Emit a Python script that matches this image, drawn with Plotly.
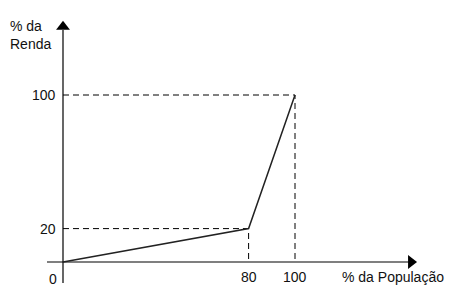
import plotly.graph_objects as go

# Data
pop = [0, 80, 100]          # % da População
renda = [0, 20, 100]        # % da Renda
x_ticks = [80, 100]
y_ticks = [20, 100]
x_title = "% da População"
y_title = "% da Renda"

W, H = 453, 294
# linear scale: origin at px (63,262); 100 -> x px 295, y px 95
sx = (295 - 63) / 100.0
sy = (262 - 95) / 100.0
x_range = [-63 / sx, (W - 63) / sx]
y_range = [-(H - 262) / sy, 262 / sy]

fig = go.Figure()

# dashed guides from the break points
for xv, yv in zip(pop[1:], renda[1:]):
    fig.add_trace(go.Scatter(x=[0, xv, xv], y=[yv, yv, 0], mode="lines",
                             line=dict(color="black", width=1, dash="6px,4px"),
                             hoverinfo="skip", showlegend=False))

# axes lines
x_lo, x_hi = (47 - 63) / sx, (418 - 63) / sx
y_lo, y_hi = -(283 - 262) / sy, (262 - 20) / sy
fig.add_trace(go.Scatter(x=[x_lo, x_hi - 4], y=[0, 0], mode="lines",
                         line=dict(color="black", width=1.2), showlegend=False, hoverinfo="skip"))
fig.add_trace(go.Scatter(x=[0, 0], y=[y_lo, y_hi - 6], mode="lines",
                         line=dict(color="black", width=1.2), showlegend=False, hoverinfo="skip"))
fig.add_trace(go.Scatter(x=[x_hi - 3], y=[0], mode="markers",
                         marker=dict(symbol="triangle-right", size=12, color="black", line=dict(width=0)),
                         showlegend=False, hoverinfo="skip"))
fig.add_trace(go.Scatter(x=[0], y=[y_hi - 4], mode="markers",
                         marker=dict(symbol="triangle-up", size=12, color="black", line=dict(width=0)),
                         showlegend=False, hoverinfo="skip"))

# main curve
fig.add_trace(go.Scatter(x=pop, y=renda, mode="lines",
                         line=dict(color="#222222", width=1.5), showlegend=False))

font = dict(family="Liberation Sans, Arial, sans-serif", size=14, color="#111111")
ann = []
for xv in x_ticks:
    ann.append(dict(x=xv, y=0, text=str(xv), showarrow=False, yshift=-15, font=font,
                    xanchor="center", yanchor="middle"))
for yv in y_ticks:
    ann.append(dict(x=0, y=yv, text=str(yv), showarrow=False, xshift=-5, font=font,
                    xanchor="right", yanchor="middle"))
ann.append(dict(x=0, y=0, text="0", showarrow=False, xshift=-10, yshift=-17, font=font,
                xanchor="center", yanchor="middle"))
ann.append(dict(x=(340 - 63) / sx, y=0, text=x_title, showarrow=False, yshift=-15, font=font,
                xanchor="left", yanchor="middle"))
ann.append(dict(xref="paper", yref="paper", x=8 / W, y=1 - 16 / H, text=y_title.replace(" da ", " da<br>").replace("% da<br>", "% da<br>"),
                showarrow=False, font=font, xanchor="left", yanchor="top", align="left"))

fig.update_layout(
    width=W, height=H, margin=dict(l=0, r=0, t=0, b=0),
    paper_bgcolor="white", plot_bgcolor="white",
    xaxis=dict(range=x_range, visible=False, fixedrange=True),
    yaxis=dict(range=y_range, visible=False, fixedrange=True),
    annotations=ann,
)
fig.write_html("out.html")
